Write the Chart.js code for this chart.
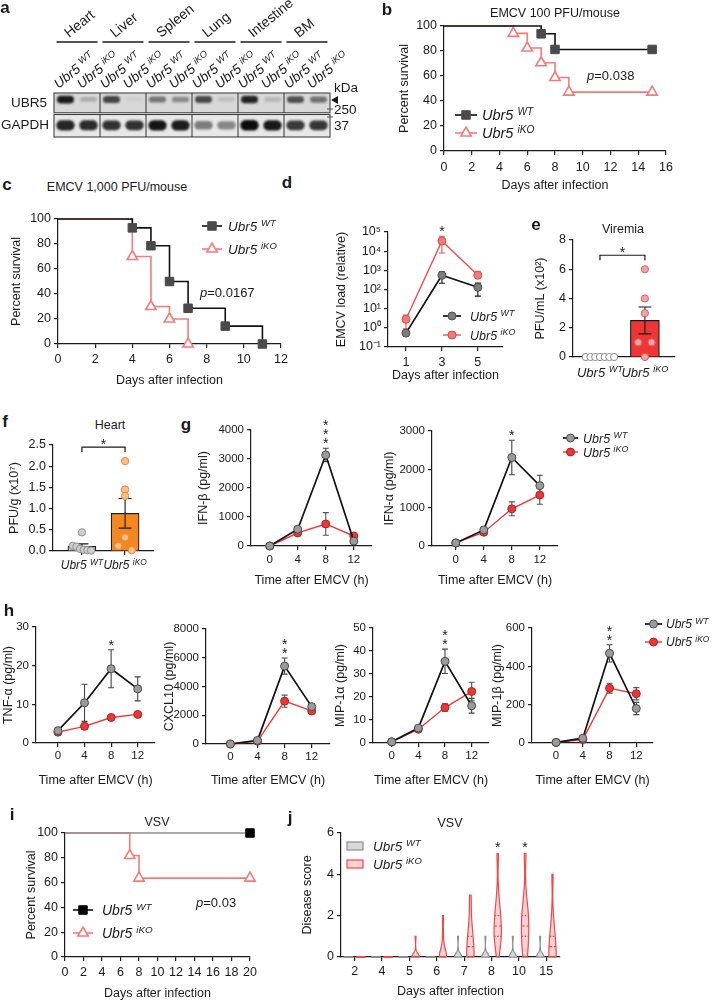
<!DOCTYPE html>
<html>
<head>
<meta charset="utf-8">
<title>Ubr5 EMCV / VSV</title>
<script src="https://cdn.jsdelivr.net/npm/chart.js@4.4.1/dist/chart.umd.min.js"></script>
<style>
  body { margin: 0; background: #fff; }
  #fig { position: relative; width: 713px; height: 1000px; overflow: hidden; background: #fff;
         font-family: "Liberation Sans", Arial, Helvetica, sans-serif; color: #1a1a1a; }
  #fig canvas { position: absolute; }
  .lbl { position: absolute; white-space: nowrap; font-size: 12.5px; line-height: 1; }
  .letter { font-weight: bold; font-size: 17px; }
</style>
</head>
<body>
<div id="fig"></div>
<script>
// ---------- data ----------
// a: western blot, relative band signal per lane (WT, iKO for each tissue)
const tissues = ['Heart', 'Liver', 'Spleen', 'Lung', 'Intestine', 'BM'];
const laneGeno = ['WT', 'iKO'];
const ubr5Signal  = [0.95, 0.30, 0.80, 0.03, 0.60, 0.50, 0.78, 0.20, 0.92, 0.25, 0.75, 0.62];
const gapdhSignal = [0.92, 0.90, 0.88, 0.88, 0.97, 0.95, 0.60, 0.55, 1.00, 0.96, 0.85, 0.86];
const kdaLabels = ['250', '37'];

// b: EMCV 100 PFU/mouse
const bWtDays = [0, 7, 8, 15];
const bWtSurv = [100, 93.75, 81.25, 81.25];
const bKoDays = [0, 5, 6, 7, 8, 9, 15];
const bKoSurv = [100, 94.1, 82.4, 70.6, 58.8, 47.1, 47.1];

// c: EMCV 1,000 PFU/mouse
const cWtDays = [0, 4, 5, 6, 7, 9, 11];
const cWtSurv = [100, 92.9, 78.6, 50, 28.6, 14.3, 0];
const cKoDays = [0, 4, 5, 6, 7];
const cKoSurv = [100, 70, 30, 20, 0];

// d: EMCV load
const dDays = [1, 3, 5];
const dWt = [0.53, 550, 130];
const dWtLo = [0.45, 210, 45];
const dWtHi = [0.62, 820, 215];
const dKo = [2.8, 34000, 550];
const dKoLo = [0.9, 8000, 430];
const dKoHi = [4.7, 60000, 900];
const dStars = ['', '*', ''];

// e: viremia (x10^2 PFU/mL), f: heart (x10^7 PFU/g)
const eWt = [0, 0, 0, 0, 0, 0, 0];
const eKo = [6, 4, 3, 1, 1, 0];
const fWt = [0.44, 0.12, 0.10, 0.05, 0.03, 0.02, 0.01];
const fKo = [2.12, 1.45, 1.30, 0.32, 0.12, 0.02];

// g, h: cytokines, mean and SEM
const hours = [0, 4, 8, 12];
const ifnbWt = [0, 580, 3140, 170],   ifnbWtSem = [0, 80, 230, 70];
const ifnbKo = [0, 450, 760, 345],    ifnbKoSem = [0, 60, 390, 60];
const ifnaWt = [80, 420, 2310, 1575], ifnaWtSem = [15, 40, 450, 270];
const ifnaKo = [80, 360, 970, 1330],  ifnaKoSem = [15, 30, 180, 240];
const tnfWt = [3.2, 10.4, 19.2, 14.0], tnfWtSem = [0.7, 4.8, 4.9, 3.1];
const tnfKo = [2.8, 4.3, 6.6, 7.4],    tnfKoSem = [0.5, 0.8, 0.7, 0.3];
const cxclWt = [0, 250, 5420, 2600],   cxclWtSem = [0, 60, 560, 200];
const cxclKo = [0, 200, 2980, 2300],   cxclKoSem = [0, 40, 420, 100];
const mip1aWt = [0.5, 6.5, 35.5, 16.2], mip1aWtSem = [0.3, 0.8, 5.3, 3.2];
const mip1aKo = [0.5, 6.0, 15.4, 22.4], mip1aKoSem = [0.3, 0.6, 1.6, 4.0];
const mip1bWt = [3, 25, 468, 180], mip1bWtSem = [2, 4, 45, 32];
const mip1bKo = [3, 18, 286, 257], mip1bKoSem = [2, 3, 26, 32];
const ifnbStars = ['', '', '***', ''];
const ifnaStars = ['', '', '*', ''];
const tnfStars = ['', '', '*', ''];
const cxclStars = ['', '', '**', ''];
const mip1aStars = ['', '', '**', ''];
const mip1bStars = ['', '', '**', ''];

// i: VSV survival
const iWtDays = [0, 20];
const iWtSurv = [100, 100];
const iKoDays = [0, 7, 8, 20];
const iKoSurv = [100, 81.8, 63.6, 63.6];

// j: VSV disease score per mouse
const jDays = ['2', '4', '5', '6', '7', '8', '10', '15'];
const jWt = [
  [0, 0, 0, 0, 0, 0, 0, 0, 0, 0],
  [0, 0, 0, 0, 0, 0, 0, 0, 0, 0],
  [0, 0, 0, 0, 0, 0, 0, 0, 0, 0],
  [0, 0, 0, 0, 0, 0, 0, 0, 0, 0],
  [0, 0, 0, 0, 0, 0, 0, 0, 0, 1],
  [0, 0, 0, 0, 0, 0, 0, 0, 0, 1],
  [0, 0, 0, 0, 0, 0, 0, 0, 0, 1],
  [0, 0, 0, 0, 0, 0, 0, 0, 0, 1]
];
const jKo = [
  [0, 0, 0, 0, 0, 0, 0, 0, 0, 0],
  [0, 0, 0, 0, 0, 0, 0, 0, 0, 0],
  [0, 0, 0, 0, 0, 0, 0, 0, 0, 1],
  [0, 0, 0, 0, 0, 0, 0, 0, 1, 2],
  [0, 0, 0, 0, 0, 1, 1, 1, 2, 3],
  [0, 1, 1, 1, 1, 2, 2, 2, 3, 5],
  [0, 0, 1, 1, 1, 2, 2, 2, 3, 5],
  [0, 0, 0, 0, 0, 1, 1, 1, 2, 4]
];
const jStars = ['', '', '', '', '', '*', '*', ''];

// ---------- setup ----------
const FONT = '"Liberation Sans", Arial, Helvetica, sans-serif';
const INK = '#1a1a1a';
Chart.defaults.font.family = FONT;
Chart.defaults.font.size = 12.5;
Chart.defaults.color = INK;
Chart.defaults.animation = false;
Chart.defaults.responsive = false;
Chart.defaults.maintainAspectRatio = false;
Chart.defaults.plugins.legend.display = false;
Chart.defaults.plugins.tooltip.enabled = false;
Chart.defaults.layout.autoPadding = false;

const fig = document.getElementById('fig');

function mkCanvas(b) {
  const c = document.createElement('canvas');
  c.width = b.w; c.height = b.h;
  c.style.cssText = `left:${b.left}px;top:${b.top}px;width:${b.w}px;height:${b.h}px`;
  fig.appendChild(c);
  return c;
}

function html(s, x, y, o = {}) {
  const d = document.createElement('div');
  d.className = 'lbl ' + (o.cls || '');
  d.innerHTML = s;
  d.style.left = x + 'px';
  d.style.top = y + 'px';
  d.style.transform = `translate(${o.align === 'left' ? '0' : '-50%'},-50%)`;
  if (o.size) d.style.fontSize = o.size + 'px';
  fig.appendChild(d);
}

const mean = a => a.reduce((s, v) => s + v, 0) / a.length;
const sd = a => {
  const m = mean(a);
  return Math.sqrt(a.reduce((s, v) => s + (v - m) ** 2, 0) / (a.length - 1));
};
const sem = a => sd(a) / Math.sqrt(a.length);
const SUPS = {'-': '⁻', '0': '⁰', '1': '¹', '2': '²', '3': '³', '4': '⁴', '5': '⁵', '6': '⁶', '7': '⁷', '8': '⁸', '9': '⁹'};
const supNum = n => String(n).split('').map(ch => SUPS[ch]).join('');

// italic "Ubr5" with superscript genotype, y = middle of caps
function ubr(ctx, x, y, supTxt, size, align) {
  ctx.save();
  ctx.fillStyle = INK;
  ctx.textBaseline = 'alphabetic';
  ctx.textAlign = 'left';
  const f1 = `italic ${size}px ${FONT}`, f2 = `italic ${(size * 0.7).toFixed(1)}px ${FONT}`;
  ctx.font = f1; const w1 = ctx.measureText('Ubr5').width;
  ctx.font = f2; const w2 = ctx.measureText(supTxt).width;
  const gap = size * 0.28;
  const left = align === 'center' ? x - (w1 + gap + w2) / 2 : x;
  const base = y + size * 0.36;
  ctx.font = f1; ctx.fillText('Ubr5', left, base);
  ctx.font = f2; ctx.fillText(supTxt, left + w1 + gap, base - size * 0.36);
  ctx.restore();
}

function star(ctx, x, cy) {
  ctx.save();
  ctx.font = `14px ${FONT}`;
  ctx.fillStyle = INK;
  ctx.textAlign = 'center';
  ctx.textBaseline = 'alphabetic';
  ctx.fillText('*', x, cy + 8);
  ctx.restore();
}

function marker(ctx, style, x, y, r, fill, stroke, lw) {
  ctx.save();
  ctx.fillStyle = fill; ctx.strokeStyle = stroke; ctx.lineWidth = lw;
  ctx.beginPath();
  if (style === 'rect') {
    const s = r * Math.SQRT1_2;
    ctx.rect(x - s, y - s, 2 * s, 2 * s);
  } else if (style === 'triangle') {
    ctx.moveTo(x, y - r);
    ctx.lineTo(x + r * 0.866, y + r * 0.5);
    ctx.lineTo(x - r * 0.866, y + r * 0.5);
    ctx.closePath();
  } else {
    ctx.arc(x, y, r, 0, Math.PI * 2);
  }
  ctx.fill();
  if (lw > 0) ctx.stroke();
  ctx.restore();
}

function legendRow(ctx, x0, x1, tx, y, ds, supTxt, size, r) {
  ctx.save();
  ctx.strokeStyle = ds.borderColor; ctx.lineWidth = ds.borderWidth;
  ctx.beginPath(); ctx.moveTo(x0, y); ctx.lineTo(x1, y); ctx.stroke();
  ctx.restore();
  marker(ctx, ds.pointStyle || 'circle', (x0 + x1) / 2, y, r, ds.pointBackgroundColor, ds.pointBorderColor, ds.pointBorderWidth);
  ubr(ctx, tx, y, supTxt, size);
}

function axis(o, size) {
  const a = {
    type: o.type || 'linear',
    afterFit: s => { if (s.isHorizontal()) s.height = size; else s.width = size; },
    grid: {display: true, drawOnChartArea: false, drawTicks: true, tickLength: 4, tickWidth: 1.2,
           tickColor: INK, color: INK, lineWidth: 1.2, offset: false},
    border: {display: true, color: INK, width: 1.2},
    ticks: {display: !o.noLabels, padding: o.pad ?? 3, color: INK, font: {size: o.fs || 12.5},
            autoSkip: false, maxRotation: 0, minRotation: 0},
    title: {display: !!o.title, text: o.title || '', color: INK, font: {size: 12.5}, padding: 0}
  };
  if (o.min !== undefined) a.min = o.min;
  if (o.max !== undefined) a.max = o.max;
  if (o.step) a.ticks.stepSize = o.step;
  if (a.type !== 'category') a.ticks.callback = o.fmt || (v => String(v));
  if (o.ticks) a.afterBuildTicks = s => { s.ticks = o.ticks.map(v => ({value: v})); };
  if (o.offset !== undefined) a.offset = o.offset;
  return a;
}

function drawErrors(c) {
  const ctx = c.ctx, xs = c.scales.x, ys = c.scales.y;
  c.data.datasets.forEach(ds => {
    if (!ds.errLo) return;
    const cap = ds.capW || 3;
    ctx.save();
    ctx.strokeStyle = ds.errColor || '#444';
    ctx.lineWidth = 1.1;
    ds.data.forEach((p, i) => {
      const x = xs.getPixelForValue(p.x);
      const y1 = ys.getPixelForValue(ds.errLo[i]), y2 = ys.getPixelForValue(ds.errHi[i]);
      ctx.beginPath();
      ctx.moveTo(x, y1); ctx.lineTo(x, y2);
      ctx.moveTo(x - cap, y1); ctx.lineTo(x + cap, y1);
      ctx.moveTo(x - cap, y2); ctx.lineTo(x + cap, y2);
      ctx.stroke();
    });
    ctx.restore();
  });
}

function drawStars(c, stars) {
  const xs = c.scales.x, ys = c.scales.y;
  stars.forEach((s, i) => {
    if (!s) return;
    let top = Infinity, x = 0;
    c.data.datasets.forEach(ds => {
      if (!ds.errHi) return;
      x = xs.getPixelForValue(ds.data[i].x);
      top = Math.min(top, ys.getPixelForValue(ds.errHi[i]));
    });
    for (let k = 0; k < s.length; k++) star(c.ctx, x, top - 8 - k * 9);
  });
}

// chart whose plot area sits at fixed page coordinates
function makeChart(s) {
  const A = s.area;
  const l = Math.round(s.yTitleX != null ? A.x0 - s.yTitleX + 7.5 : (s.l || 40));
  const b = Math.round(s.xTitleY != null ? s.xTitleY + 7.5 - A.y1 : (s.b || 30));
  const t = s.top ?? 14, r = s.right ?? 14;
  const box = {left: A.x0 - l, top: A.y0 - t, w: A.x1 - A.x0 + l + r, h: A.y1 - A.y0 + t + b};
  const cv = mkCanvas(box);
  const hooks = {
    id: 'deco',
    beforeDatasetsDraw(c) { if (s.errAfter == null) drawErrors(c); },
    afterDatasetDraw(c, args) { if (s.errAfter === args.index) drawErrors(c); },
    afterDatasetsDraw(c) {
      if (s.after) s.after(c);
      if (s.stars) drawStars(c, s.stars);
    },
    afterDraw(c) {
      if (!s.page) return;
      const ctx = c.ctx;
      ctx.save();
      ctx.translate(-box.left, -box.top);
      s.page(ctx, c);
      ctx.restore();
    }
  };
  return new Chart(cv, {
    type: s.type || 'line',
    data: {labels: s.labels, datasets: s.datasets},
    options: {
      layout: {padding: {left: 0, top: t, right: r, bottom: 0}},
      scales: {x: axis(s.x, b), y: axis(s.y, l)}
    },
    plugins: [hooks]
  });
}

// ---------- a: western blot ----------
(function blot() {
  const W = 362, H = 142;
  const cv = mkCanvas({left: 0, top: 0, w: W, h: H});
  const area = {l: 54, t: 93, r: 330, b: 137};
  const lanes = tissues.flatMap(t => laneGeno.map(g => t + ' ' + g));
  const shade = v => `rgba(12,12,12,${(0.05 + 0.95 * Math.pow(v, 1.5)).toFixed(2)})`;
  new Chart(cv, {
    type: 'bar',
    data: {
      labels: lanes,
      datasets: [
        {label: 'UBR5', data: ubr5Signal.map(v => [1.72 - 0.09 - 0.11 * v, 1.72 + 0.07 + 0.09 * v]),
         backgroundColor: ubr5Signal.map(shade), grouped: false, barPercentage: 0.74,
         categoryPercentage: 1, borderRadius: 5, borderSkipped: false},
        {label: 'GAPDH', data: gapdhSignal.map(v => [0.53 - 0.12 - 0.12 * v, 0.53 + 0.12 + 0.12 * v]),
         backgroundColor: gapdhSignal.map(shade), grouped: false, barPercentage: 0.8,
         categoryPercentage: 1, borderRadius: 6, borderSkipped: false}
      ]
    },
    options: {
      layout: {padding: {left: area.l, top: area.t, right: W - area.r, bottom: H - area.b}},
      scales: {x: {display: false}, y: {display: false, min: 0, max: 2}}
    },
    plugins: [{
      id: 'blot',
      beforeDatasetsDraw(c) {
        const ctx = c.ctx, ys = c.scales.y, ca = c.chartArea;
        ctx.save();
        ctx.fillStyle = '#d8d8d8';
        ctx.fillRect(ca.left, ys.getPixelForValue(2), ca.right - ca.left, ys.getPixelForValue(1.1) - ys.getPixelForValue(2));
        ctx.fillStyle = '#e8e8e8';
        ctx.fillRect(ca.left, ys.getPixelForValue(1.02), ca.right - ca.left, ys.getPixelForValue(0) - ys.getPixelForValue(1.02));
        ctx.restore();
      },
      beforeDatasetDraw(c) { c.ctx.save(); c.ctx.filter = 'blur(0.9px)'; },
      afterDatasetDraw(c) { c.ctx.restore(); },
      afterDatasetsDraw(c) {
        const ctx = c.ctx, xs = c.scales.x, ys = c.scales.y, ca = c.chartArea;
        ctx.save();
        ctx.strokeStyle = '#333'; ctx.lineWidth = 1;
        [[2, 1.1], [1.02, 0]].forEach(([a, b]) => {
          const ya = ys.getPixelForValue(a), yb = ys.getPixelForValue(b);
          ctx.strokeRect(ca.left, ya, ca.right - ca.left, yb - ya);
          for (let k = 1; k < tissues.length; k++) {
            const x = (xs.getPixelForValue(2 * k - 1) + xs.getPixelForValue(2 * k)) / 2;
            ctx.beginPath(); ctx.moveTo(x, ya); ctx.lineTo(x, yb); ctx.stroke();
          }
        });
        ctx.restore();
      },
      afterDraw(c) {
        const ctx = c.ctx, xs = c.scales.x, ys = c.scales.y, ca = c.chartArea;
        const rowMid = (a, b) => (ys.getPixelForValue(a) + ys.getPixelForValue(b)) / 2;
        ctx.save();
        ctx.fillStyle = INK;
        ctx.font = `13.5px ${FONT}`;
        ctx.textAlign = 'right'; ctx.textBaseline = 'middle';
        ctx.fillText('UBR5', ca.left - 7, rowMid(2, 1.1));
        ctx.fillText('GAPDH', ca.left - 5, rowMid(1.02, 0));
        ctx.textAlign = 'left';
        ctx.fillText('kDa', ca.right + 4, 88);
        ctx.fillText(kdaLabels[0], ca.right + 4, 110);
        ctx.fillText(kdaLabels[1], ca.right + 4, 126);
        // arrowhead and marker dashes
        ctx.beginPath();
        ctx.moveTo(ca.right + 1, 100); ctx.lineTo(ca.right + 8, 96); ctx.lineTo(ca.right + 8, 104); ctx.closePath();
        ctx.fill();
        ctx.strokeStyle = '#555'; ctx.lineWidth = 1;
        ctx.beginPath();
        ctx.moveTo(ca.right - 3, 109); ctx.lineTo(ca.right + 3, 109);
        ctx.moveTo(ca.right - 3, 117); ctx.lineTo(ca.right + 3, 117);
        ctx.stroke();
        // tissue headers
        ctx.strokeStyle = INK; ctx.lineWidth = 1.3;
        tissues.forEach((t, k) => {
          const xa = xs.getPixelForValue(2 * k) - 9, xb = xs.getPixelForValue(2 * k + 1) + 9;
          ctx.beginPath(); ctx.moveTo(xa, 42); ctx.lineTo(xb, 42); ctx.stroke();
          ctx.save();
          ctx.translate((xa + xb) / 2 - 8, 38);
          ctx.rotate(-0.68);
          ctx.font = `14px ${FONT}`;
          ctx.textAlign = 'left'; ctx.textBaseline = 'alphabetic';
          ctx.fillText(t, 0, 0);
          ctx.restore();
        });
        // lane genotypes
        lanes.forEach((ln, i) => {
          ctx.save();
          ctx.translate(xs.getPixelForValue(i) - 7, 89);
          ctx.rotate(-0.68);
          ubr(ctx, 0, -13.5 * 0.36, laneGeno[i % 2], 13.5);
          ctx.restore();
        });
        ctx.restore();
      }
    }]
  });
})();

// ---------- b, c, i: survival ----------
const KM_WT = {borderColor: '#111', borderWidth: 1.6, pointStyle: 'rect', pointBackgroundColor: '#4a4a4a',
               pointBorderColor: '#4a4a4a', pointBorderWidth: 1};
const KM_KO = {borderColor: '#f37b7b', borderWidth: 1.6, pointStyle: 'triangle', pointBackgroundColor: '#fff',
               pointBorderColor: '#f37b7b', pointBorderWidth: 1.6};
const KM_WT_VSV = Object.assign({}, KM_WT, {borderColor: '#8c8c8c', pointBackgroundColor: '#000', pointBorderColor: '#000'});

function kmSet(days, surv, st, r) {
  return Object.assign({
    data: days.map((d, i) => ({x: d, y: surv[i]})),
    stepped: true, fill: false, clip: false,
    pointRadius: days.map((d, i) => (i ? r : 0))
  }, st);
}

makeChart({
  area: {x0: 444, x1: 666, y0: 26, y1: 151}, yTitleX: 405, xTitleY: 185, top: 12, right: 16,
  x: {min: 0, max: 16, step: 2, pad: 5, title: 'Days after infection'},
  y: {min: 0, max: 100, step: 20, title: 'Percent survival'},
  datasets: [kmSet(bWtDays, bWtSurv, KM_WT, 6), kmSet(bKoDays, bKoSurv, KM_KO, 6)],
  page(ctx, c) {
    legendRow(ctx, 455, 477, 482, 115, c.data.datasets[0], 'WT', 14.5, 6);
    legendRow(ctx, 455, 477, 482, 133, c.data.datasets[1], 'iKO', 14.5, 6);
  }
});

makeChart({
  area: {x0: 58, x1: 281, y0: 219, y1: 344}, yTitleX: 17, xTitleY: 380, top: 12, right: 12,
  x: {min: 0, max: 12, step: 2, pad: 4.5, title: 'Days after infection'},
  y: {min: 0, max: 100, step: 20, title: 'Percent survival'},
  datasets: [kmSet(cWtDays, cWtSurv, KM_WT, 6), kmSet(cKoDays, cKoSurv, KM_KO, 6)],
  page(ctx, c) {
    legendRow(ctx, 202, 222, 228, 226, c.data.datasets[0], 'WT', 13.5, 6);
    legendRow(ctx, 202, 222, 228, 249, c.data.datasets[1], 'iKO', 13.5, 6);
  }
});

makeChart({
  area: {x0: 65, x1: 250, y0: 833, y1: 957}, yTitleX: 32, xTitleY: 993, top: 12, right: 12,
  x: {min: 0, max: 20, step: 2, pad: 4.5, title: 'Days after infection'},
  y: {min: 0, max: 100, step: 20, title: 'Percent survival'},
  datasets: [kmSet(iWtDays, iWtSurv, KM_WT_VSV, 6), kmSet(iKoDays, iKoSurv, KM_KO, 6)],
  page(ctx, c) {
    legendRow(ctx, 73, 93, 102, 910, Object.assign({}, c.data.datasets[0], {borderColor: '#111'}), 'WT', 14, 6);
    legendRow(ctx, 73, 93, 102, 933, c.data.datasets[1], 'iKO', 14, 6);
  }
});

// ---------- d: viral load (log) ----------
const LN_WT = {borderColor: '#111', borderWidth: 1.7, pointRadius: 4, pointBackgroundColor: '#9b9b9b',
               pointBorderColor: '#4a4a4a', pointBorderWidth: 1, errColor: '#444', clip: false};
const LN_KO = {borderColor: '#ee3636', borderWidth: 1.4, pointRadius: 4, pointBackgroundColor: '#ee3636',
               pointBorderColor: '#a82222', pointBorderWidth: 1, errColor: '#555', clip: false};

function pts(xs, ys) { return xs.map((x, i) => ({x, y: ys[i]})); }
function semSeries(ys, s, st) {
  return Object.assign({data: pts(hours, ys), errLo: ys.map((v, i) => v - s[i]), errHi: ys.map((v, i) => v + s[i])}, st);
}

makeChart({
  area: {x0: 388, x1: 503, y0: 232, y1: 347}, yTitleX: 342, xTitleY: 375, top: 22, right: 40,
  x: {min: 0, max: 6.4, ticks: dDays, pad: 4, title: 'Days after infection'},
  y: {type: 'logarithmic', min: 0.1, max: 1e5, ticks: [0.1, 1, 10, 100, 1e3, 1e4, 1e5],
      fmt: v => '10' + supNum(Math.round(Math.log10(v))), title: 'EMCV load (relative)'},
  datasets: [
    Object.assign({data: pts(dDays, dWt), errLo: dWtLo, errHi: dWtHi}, LN_WT, {pointBackgroundColor: '#7d7d7d', errColor: '#111'}),
    Object.assign({data: pts(dDays, dKo), errLo: dKoLo, errHi: dKoHi}, LN_KO,
                  {borderColor: '#f24d4d', pointBackgroundColor: '#f47a7a', pointBorderColor: '#d84a4a', errColor: '#f24d4d'})
  ],
  stars: dStars,
  page(ctx, c) {
    legendRow(ctx, 443, 461, 470, 316, c.data.datasets[0], 'WT', 12.5, 4);
    legendRow(ctx, 443, 461, 470, 335, c.data.datasets[1], 'iKO', 12.5, 4);
  }
});

// ---------- e, f: bar + dots ----------
function swarm(vals, cx, step, tol) {
  const sorted = vals.slice().sort((a, b) => b - a);
  const out = [];
  let grp = [];
  const flush = () => {
    grp.forEach((v, j) => out.push({x: cx + (j - (grp.length - 1) / 2) * step, y: v}));
    grp = [];
  };
  sorted.forEach(v => {
    if (grp.length && Math.abs(grp[grp.length - 1] - v) >= tol) flush();
    grp.push(v);
  });
  flush();
  return out;
}

function dotBar(s) {
  const wtPts = swarm(s.wt, 0, s.wtStep, s.tol), koPts = swarm(s.ko, 1, s.koStep, s.tol);
  const means = [mean(s.wt), mean(s.ko)], sems = [sem(s.wt), sem(s.ko)];
  return makeChart({
    type: 'bar', area: s.area, yTitleX: s.yTitleX, b: s.b, top: 12, right: 10, errAfter: 1,
    x: {min: s.xmin, max: s.xmax, ticks: [0, 1], noLabels: true, offset: false},
    y: s.y,
    datasets: [
      {type: 'scatter', data: wtPts.concat(koPts), order: 0, clip: false,
       pointRadius: s.r, pointBorderWidth: 1,
       pointBackgroundColor: wtPts.map(() => s.wtDot[0]).concat(koPts.map(() => s.koDot[0])),
       pointBorderColor: wtPts.map(() => s.wtDot[1]).concat(koPts.map(() => s.koDot[1]))},
      {type: 'bar', data: [{x: 0, y: means[0]}, {x: 1, y: means[1]}], order: 1,
       errLo: means.map((m, i) => m - sems[i]), errHi: means.map((m, i) => m + sems[i]),
       errColor: INK, capW: 6.5,
       backgroundColor: s.barColors, borderColor: INK, borderWidth: 1.2, barThickness: s.barW}
    ],
    after(c) {
      const ctx = c.ctx, xs = c.scales.x, ys = c.scales.y;
      const x0 = xs.getPixelForValue(0), x1 = xs.getPixelForValue(1);
      const y = ys.getPixelForValue(Math.max(...s.ko)) - 14;
      ctx.save();
      ctx.strokeStyle = INK; ctx.lineWidth = 1.2;
      ctx.beginPath(); ctx.moveTo(x0, y + 5); ctx.lineTo(x0, y); ctx.lineTo(x1, y); ctx.lineTo(x1, y + 5); ctx.stroke();
      ctx.restore();
      star(ctx, (x0 + x1) / 2, y - 6);
      const ly = c.chartArea.bottom + s.labelDy;
      ubr(ctx, x0, ly, 'WT', s.labelFs, 'center');
      ubr(ctx, x1, ly, 'iKO', s.labelFs, 'center');
    }
  });
}

dotBar({
  area: {x0: 573, x1: 675, y0: 240, y1: 357}, yTitleX: 541, b: 32,
  xmin: -0.6, xmax: 1.67, wt: eWt, ko: eKo, wtStep: 0.105, koStep: 0.3, tol: 0.45, r: 3.6,
  wtDot: ['#ffffff', '#8a8a8a'], koDot: ['#f5a3a3', '#d65f5f'],
  barColors: ['#cfcfcf', '#ef3535'], barW: 29,
  y: {min: 0, max: 8, step: 2, title: 'PFU/mL (x10²)'},
  labelDy: 15, labelFs: 13
});

dotBar({
  area: {x0: 53, x1: 154, y0: 445, y1: 551}, yTitleX: 15, b: 26,
  xmin: -0.67, xmax: 1.67, wt: fWt, ko: fKo, wtStep: 0.085, koStep: 0.31, tol: 0.14, r: 3.7,
  wtDot: ['#cdcdcd', '#8f8f8f'], koDot: ['#fbbf86', '#e3883a'],
  barColors: ['#d2d2d2', '#f5871f'], barW: 28,
  y: {min: 0, max: 2.5, step: 0.5, fmt: v => v.toFixed(1), title: 'PFU/g (x10⁷)'},
  labelDy: 14, labelFs: 12
});

// ---------- g: interferons ----------
makeChart({
  area: {x0: 251, x1: 372, y0: 430, y1: 546}, yTitleX: 204, xTitleY: 580, top: 24, right: 8,
  x: {min: -2.67, max: 14.6, ticks: hours, pad: 2.5, fs: 11.5, title: 'Time after EMCV (h)'},
  y: {min: 0, max: 4000, step: 1000, fs: 11.5, title: 'IFN-β (pg/ml)'},
  datasets: [semSeries(ifnbWt, ifnbWtSem, LN_WT), semSeries(ifnbKo, ifnbKoSem, LN_KO)],
  stars: ifnbStars
});

makeChart({
  area: {x0: 432, x1: 558, y0: 431, y1: 546}, yTitleX: 390, xTitleY: 580, top: 24, right: 100,
  x: {min: -3.4, max: 14.6, ticks: hours, pad: 2.5, fs: 11.5, title: 'Time after EMCV (h)'},
  y: {min: 0, max: 3000, step: 1000, fs: 11.5, title: 'IFN-α (pg/ml)'},
  datasets: [semSeries(ifnaWt, ifnaWtSem, LN_WT), semSeries(ifnaKo, ifnaKoSem, LN_KO)],
  stars: ifnaStars,
  page(ctx, c) {
    legendRow(ctx, 563, 578, 583, 438, c.data.datasets[0], 'WT', 12.5, 4);
    legendRow(ctx, 563, 578, 583, 452, c.data.datasets[1], 'iKO', 12.5, 4);
  }
});

// ---------- h: cytokines ----------
makeChart({
  area: {x0: 36, x1: 155, y0: 627, y1: 743}, yTitleX: 9, xTitleY: 780, top: 24, right: 8,
  x: {min: -3.3, max: 14.6, ticks: hours, pad: 2, fs: 11.5, title: 'Time after EMCV (h)'},
  y: {min: 0, max: 30, step: 10, fs: 11.5, title: 'TNF-α (pg/ml)'},
  datasets: [semSeries(tnfWt, tnfWtSem, LN_WT), semSeries(tnfKo, tnfKoSem, LN_KO)],
  stars: tnfStars
});

makeChart({
  area: {x0: 206, x1: 330, y0: 629, y1: 744}, yTitleX: 170, xTitleY: 780, top: 24, right: 8,
  x: {min: -3.6, max: 14.7, ticks: hours, pad: 2, fs: 11.5, title: 'Time after EMCV (h)'},
  y: {min: 0, max: 8000, step: 2000, fs: 11.5, title: 'CXCL10 (pg/ml)'},
  datasets: [semSeries(cxclWt, cxclWtSem, LN_WT), semSeries(cxclKo, cxclKoSem, LN_KO)],
  stars: cxclStars
});

makeChart({
  area: {x0: 373, x1: 489, y0: 628, y1: 743}, yTitleX: 341, xTitleY: 780, top: 24, right: 8,
  x: {min: -2.8, max: 14.6, ticks: hours, pad: 2, fs: 11.5, title: 'Time after EMCV (h)'},
  y: {min: 0, max: 50, step: 10, fs: 11.5, title: 'MIP-1α (pg/ml)'},
  datasets: [semSeries(mip1aWt, mip1aWtSem, LN_WT), semSeries(mip1aKo, mip1aKoSem, LN_KO)],
  stars: mip1aStars
});

makeChart({
  area: {x0: 532, x1: 653, y0: 628, y1: 743}, yTitleX: 498, xTitleY: 780, top: 24, right: 60,
  x: {min: -3.6, max: 14.5, ticks: hours, pad: 2, fs: 11.5, title: 'Time after EMCV (h)'},
  y: {min: 0, max: 600, step: 200, fs: 11.5, title: 'MIP-1β (pg/ml)'},
  datasets: [semSeries(mip1bWt, mip1bWtSem, LN_WT), semSeries(mip1bKo, mip1bKoSem, LN_KO)],
  stars: mip1bStars,
  page(ctx, c) {
    legendRow(ctx, 645, 662, 666, 624, c.data.datasets[0], 'WT', 12, 4);
    legendRow(ctx, 645, 662, 666, 642, c.data.datasets[1], 'iKO', 12, 4);
  }
});

// ---------- j: disease score violins ----------
const VIO_WT = {fill: '#d9d9d9', stroke: '#8c8c8c'};
const VIO_KO = {fill: 'rgba(250,165,165,0.5)', stroke: '#f04848'};

function violin(ctx, ys, cx, barW, vals, st) {
  const lo = Math.min(...vals), hi = Math.max(...vals);
  const half = barW * 0.33;
  ctx.save();
  ctx.lineWidth = 1.2; ctx.strokeStyle = st.stroke; ctx.fillStyle = st.fill;
  if (hi === lo) {
    const y = ys.getPixelForValue(lo);
    ctx.lineWidth = 2;
    ctx.beginPath(); ctx.moveTo(cx - half * 1.3, y); ctx.lineTo(cx + half * 1.3, y); ctx.stroke();
    ctx.restore();
    return;
  }
  // kernel bandwidth from the spread of the scores
  const bw = Math.min(0.6, Math.max(0.15, 0.9 * sd(vals) * Math.pow(vals.length, -0.2)));
  const N = 60;
  const dens = v => vals.reduce((s, u) => s + Math.exp(-0.5 * ((v - u) / bw) ** 2), 0);
  const prof = [];
  for (let k = 0; k <= N; k++) { const v = lo + (hi - lo) * k / N; prof.push([v, dens(v)]); }
  const m = Math.max(...prof.map(p => p[1]));
  ctx.beginPath();
  prof.forEach(([v, d], k) => {
    const y = ys.getPixelForValue(v), w = d / m * half;
    if (k) ctx.lineTo(cx + w, y); else ctx.moveTo(cx + w, y);
  });
  for (let k = N; k >= 0; k--) ctx.lineTo(cx - prof[k][1] / m * half, ys.getPixelForValue(prof[k][0]));
  ctx.closePath(); ctx.fill(); ctx.stroke();
  const srt = vals.slice().sort((a, b) => a - b);
  const q = p => {
    const h = (srt.length - 1) * p, i = Math.floor(h);
    return srt[i] + (h - i) * ((srt[i + 1] ?? srt[i]) - srt[i]);
  };
  [[q(0.25), [1.5, 1.5]], [q(0.5), [3, 2]], [q(0.75), [1.5, 1.5]]].forEach(([v, dash]) => {
    if (v <= lo || v >= hi) return;
    const y = ys.getPixelForValue(v), w = dens(v) / m * half;
    ctx.setLineDash(dash);
    ctx.beginPath(); ctx.moveTo(cx - w, y); ctx.lineTo(cx + w, y); ctx.stroke();
  });
  ctx.restore();
}

makeChart({
  type: 'bar', labels: jDays,
  area: {x0: 341, x1: 560, y0: 833, y1: 957}, yTitleX: 308, xTitleY: 991, top: 14, right: 12,
  x: {type: 'category', offset: true, pad: 3, title: 'Days after infection'},
  y: {min: 0, max: 6, step: 2, title: 'Disease score'},
  datasets: [
    {data: jWt.map(v => Math.max(...v)), backgroundColor: 'rgba(0,0,0,0)', borderWidth: 0,
     categoryPercentage: 0.9, barPercentage: 0.9},
    {data: jKo.map(v => Math.max(...v)), backgroundColor: 'rgba(0,0,0,0)', borderWidth: 0,
     categoryPercentage: 0.9, barPercentage: 0.9}
  ],
  after(c) {
    const ys = c.scales.y;
    [[jWt, VIO_WT], [jKo, VIO_KO]].forEach(([groups, st], di) => {
      const meta = c.getDatasetMeta(di);
      groups.forEach((vals, i) => violin(c.ctx, ys, meta.data[i].x, meta.data[i].width, vals, st));
    });
    const koMeta = c.getDatasetMeta(1);
    jStars.forEach((s, i) => {
      if (s) star(c.ctx, koMeta.data[i].x, ys.getPixelForValue(Math.max(...jKo[i])) - 10);
    });
  },
  page(ctx) {
    [[846, VIO_WT, 'WT'], [864, VIO_KO, 'iKO']].forEach(([y, st, g]) => {
      ctx.save();
      ctx.fillStyle = st.fill; ctx.strokeStyle = st.stroke; ctx.lineWidth = 1.2;
      ctx.fillRect(347, y - 4, 16, 8); ctx.strokeRect(347, y - 4, 16, 8);
      ctx.restore();
      ubr(ctx, 373, y, g, 13.5);
    });
  }
});

// ---------- text: panel letters, titles, p values ----------
[['a', 5, 7], ['b', 387, 9], ['c', 7, 184], ['d', 287, 182], ['e', 536, 224], ['f', 5, 421],
 ['g', 186, 424], ['h', 9, 610], ['i', 12, 814], ['j', 290, 817]]
  .forEach(([t, x, y]) => html(t, x, y, {cls: 'letter'}));

html('EMCV 100 PFU/mouse', 555, 13);
html('EMCV 1,000 PFU/mouse', 117, 187);
html('Viremia', 623, 229);
html('Heart', 110, 425);
html('VSV', 157, 822);
html('VSV', 450, 823);
html('<i>p</i>=0.038', 587, 75, {align: 'left', size: 13});
html('<i>p</i>=0.0167', 200, 292, {align: 'left', size: 13});
html('<i>p</i>=0.03', 196, 902, {align: 'left', size: 13});
</script>
</body>
</html>
